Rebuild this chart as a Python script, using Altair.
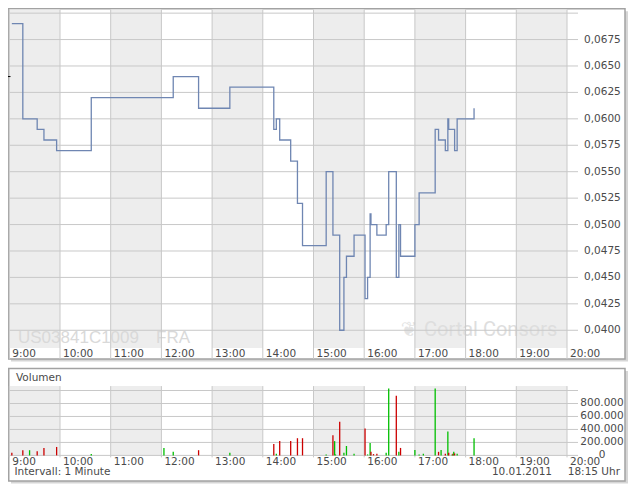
import altair as alt
import pandas as pd

# ---------------- data ----------------
price_time = ["9:03", "9:16", "9:33", "9:41", "9:56", "10:37", "12:14", "12:44", "13:21",
              "14:13", "14:16", "14:20", "14:33", "14:41", "14:47", "15:15", "15:23", "15:31",
              "15:36", "15:39", "15:48", "16:01", "16:04", "16:07", "16:08", "16:15", "16:26",
              "16:29", "16:38", "16:41", "16:43", "17:00", "17:05", "17:24", "17:28", "17:36",
              "17:39", "17:40", "17:47", "17:50", "18:10"]
price_value = [0.069, 0.060, 0.059, 0.058, 0.057, 0.062, 0.064, 0.061, 0.063,
               0.059, 0.060, 0.058, 0.056, 0.052, 0.048, 0.055, 0.049, 0.040,
               0.045, 0.047, 0.049, 0.043, 0.045, 0.051, 0.050, 0.049, 0.050,
               0.055, 0.045, 0.050, 0.047, 0.050, 0.053, 0.059, 0.058, 0.057,
               0.060, 0.059, 0.057, 0.060, 0.061]
prev_close = [0.064]

vol_time = ["9:03", "9:16", "9:24", "9:33", "9:41", "9:56", "10:37", "12:03", "12:14", "12:44",
            "13:21", "14:13", "14:16", "14:20", "14:33", "14:41", "14:47", "15:15", "15:23",
            "15:25", "15:26", "15:31", "15:36", "15:39", "15:48", "16:01", "16:04", "16:07",
            "16:08", "16:11", "16:15", "16:26", "16:29", "16:38", "16:41", "16:43", "17:00",
            "17:05", "17:10", "17:24", "17:28", "17:31", "17:36", "17:39", "17:40", "17:44",
            "17:45", "17:46", "17:47", "17:50", "18:10"]
vol_value = [40000, 80000, 80000, 65000, 115000, 130000, 20000, 115000, 55000, 80000,
             40000, 175000, 25000, 220000, 220000, 265000, 265000, 15000, 310000,
             220000, 15000, 520000, 40000, 145000, 25000, 415000, 15000, 190000,
             55000, 20000, 25000, 40000, 1030000, 920000, 55000, 115000, 85000,
             15000, 25000, 1030000, 55000, 85000, 25000, 370000, 40000, 15000,
             25000, 55000, 30000, 25000, 265000]
vol_dir = ["down", "down", "up", "down", "down", "down", "up", "up", "up", "down",
           "up", "down", "up", "down", "down", "down", "down", "up", "down",
           "up", "up", "down", "up", "up", "up", "down", "up", "up",
           "down", "down", "down", "up", "up", "down", "up", "down", "up",
           "up", "up", "up", "down", "up", "down", "up", "down", "up",
           "down", "up", "down", "up", "up"]

hours = list(range(9, 21))
shaded_hours = [9, 11, 13, 15, 17, 19]
price_grid = [0.0400, 0.0425, 0.0450, 0.0475, 0.0500, 0.0525, 0.0550, 0.0575,
              0.0600, 0.0625, 0.0650, 0.0675, 0.0700]
price_labels = price_grid[:-1]
vol_grid = [0, 200000, 400000, 600000, 800000, 1000000]
vol_labels = [0, 200000, 400000, 600000, 800000]


def to_h(s):
    h, m = s.split(":")
    return int(h) + int(m) / 60.0


price_df = pd.DataFrame({"h": [to_h(t) for t in price_time], "p": price_value})
vol_df = pd.DataFrame({"h": [to_h(t) for t in vol_time], "v": vol_value, "d": vol_dir})
hour_df = pd.DataFrame({"h": hours, "t": [f"{h}:00" for h in hours]})
band_df = pd.DataFrame({"s": shaded_hours, "e": [h + 1 for h in shaded_hours]})
pgrid_df = pd.DataFrame({"v": price_grid})
plab_df = pd.DataFrame({"v": price_labels,
                        "t": [f"{v:.4f}".replace(".", ",") for v in price_labels]})
vgrid_df = pd.DataFrame({"v": vol_grid})
vlab_df = pd.DataFrame({"v": vol_labels,
                        "t": [f"{v:,}".replace(",", ".") for v in vol_labels]})
prev_df = pd.DataFrame({"v": prev_close})
one = pd.DataFrame({"a": [0]})

# ---------------- layout ----------------
W, H = 624, 476
X0, HW = 1.3, 50.7
X1 = X0 + 11 * HW
P_TOP, P_BOT = 1.5, 340
V_TOP, V_BOT = 378.1, 447.4
FRAME_R = 617
TOP_FRAME = (0.75, 351)
BOT_FRAME = (360.5, 473)

xs = alt.Scale(domain=[9, 20], range=[X0, X1], nice=False, zero=False)
py = alt.Scale(domain=[0.038323, 0.070343], range=[P_BOT, P_TOP], nice=False, zero=False)
vy = alt.Scale(domain=[0, 1068000], range=[V_BOT, V_TOP], nice=False, zero=False)

GRID = "#C8C8C8"
BAND = "#EDEDED"
LAB = "#4A4A4A"
FONT = "DejaVu Sans"
FS = 10.5

layers = []


def frame(y0, y1):
    shadow = alt.Chart(one).mark_rect(fill="#D6D6D6").encode(
        x=alt.value(3), x2=alt.value(FRAME_R + 3), y=alt.value(y0 + 2.5), y2=alt.value(y1 + 2.5))
    box = alt.Chart(one).mark_rect(fill="white", stroke="#A2A2A2", strokeWidth=1.5).encode(
        x=alt.value(0.75), x2=alt.value(FRAME_R), y=alt.value(y0), y2=alt.value(y1))
    return [shadow, box]


layers += frame(*TOP_FRAME)
layers += frame(*BOT_FRAME)

# shaded hour bands
for yt, yb in [(P_TOP, P_BOT), (V_TOP, V_BOT)]:
    layers.append(alt.Chart(band_df).mark_rect(fill=BAND).encode(
        x=alt.X("s:Q", scale=xs, axis=None), x2="e:Q",
        y=alt.value(yt), y2=alt.value(yb)))

# watermarks
wm = "#D9D9D9"
layers.append(alt.Chart(one).mark_text(text="US03841C1009", font="Liberation Sans", fontSize=17,
                                        color=wm, align="left", baseline="alphabetic").encode(
    x=alt.value(10), y=alt.value(335)))
layers.append(alt.Chart(one).mark_text(text="FRA", font="Liberation Sans", fontSize=17, color=wm,
                                        align="left", baseline="alphabetic").encode(
    x=alt.value(148), y=alt.value(335)))
layers.append(alt.Chart(one).mark_text(text="Cortal Consors", font="Roboto", fontSize=20,
                                        color="#DEDEDE", align="left", baseline="middle").encode(
    x=alt.value(416), y=alt.value(322)))
layers.append(alt.Chart(one).mark_text(text="\u2766", font="DejaVu Sans", fontSize=20,
                                        color="#E4E4E4", align="center", baseline="middle").encode(
    x=alt.value(401), y=alt.value(322)))

# gridlines - price panel
layers.append(alt.Chart(pgrid_df).mark_rule(color=GRID, strokeWidth=1).encode(
    y=alt.Y("v:Q", scale=py, axis=None), x=alt.value(X0), x2=alt.value(X1 + 11)))
layers.append(alt.Chart(hour_df).mark_rule(color=GRID, strokeWidth=1).encode(
    x=alt.X("h:Q", scale=xs, axis=None), y=alt.value(1.5), y2=alt.value(TOP_FRAME[1])))
# gridlines - volume panel
layers.append(alt.Chart(vgrid_df).mark_rule(color=GRID, strokeWidth=1).encode(
    y=alt.Y("v:Q", scale=vy, axis=None), x=alt.value(X0), x2=alt.value(X1 + 11)))
layers.append(alt.Chart(hour_df).mark_rule(color=GRID, strokeWidth=1).encode(
    x=alt.X("h:Q", scale=xs, axis=None), y=alt.value(V_TOP), y2=alt.value(V_BOT + 2)))

# price line
layers.append(alt.Chart(price_df).mark_line(interpolate="step-after", color="#6F86B2",
                                             strokeWidth=1.3).encode(
    x=alt.X("h:Q", scale=xs, axis=None), y=alt.Y("p:Q", scale=py, axis=None)))
layers.append(alt.Chart(prev_df).mark_rule(color="black", strokeWidth=1).encode(
    y=alt.Y("v:Q", scale=py, axis=None), x=alt.value(0), x2=alt.value(2.5)))

# volume bars
layers.append(alt.Chart(vol_df).mark_rule(strokeWidth=1.3).encode(
    x=alt.X("h:Q", scale=xs, axis=None), y=alt.Y("v:Q", scale=vy, axis=None), y2=alt.datum(0),
    color=alt.Color("d:N", scale=alt.Scale(domain=["down", "up"], range=["#CC0000", "#00BF00"]),
                    legend=None)))

# axis labels
for yl in [345.5, 453.5]:
    layers.append(alt.Chart(hour_df).mark_text(font=FONT, fontSize=FS, color=LAB, align="left",
                                                baseline="middle", dx=3).encode(
        x=alt.X("h:Q", scale=xs, axis=None), y=alt.value(yl), text="t:N"))
layers.append(alt.Chart(plab_df).mark_text(font=FONT, fontSize=FS, color=LAB, align="left",
                                            baseline="middle").encode(
    y=alt.Y("v:Q", scale=py, axis=None), x=alt.value(X1 + 17), text="t:N"))
layers.append(alt.Chart(vlab_df).mark_text(font=FONT, fontSize=FS, color=LAB, align="center",
                                            baseline="middle").encode(
    y=alt.Y("v:Q", scale=vy, axis=None), x=alt.value(594), text="t:N"))


# panel texts
def txt(s, x, y, align="left"):
    return alt.Chart(one).mark_text(text=s, font=FONT, fontSize=FS, color=LAB, align=align,
                                    baseline="middle").encode(x=alt.value(x), y=alt.value(y))


layers.append(txt("Volumen", 8, 369.5))
layers.append(txt("Intervall: 1 Minute", 6.5, 464))
layers.append(txt("10.01.2011", 544, 464, "right"))
layers.append(txt("18:15 Uhr", 612, 464, "right"))

chart = alt.layer(*layers).resolve_scale(
    x="independent", y="independent", color="independent"
).properties(
    width=W, height=H, padding=0, autosize=alt.AutoSizeParams(type="none")
).configure_view(strokeWidth=0)

chart.save("out.html", embed_options={"renderer": "svg", "actions": False})
